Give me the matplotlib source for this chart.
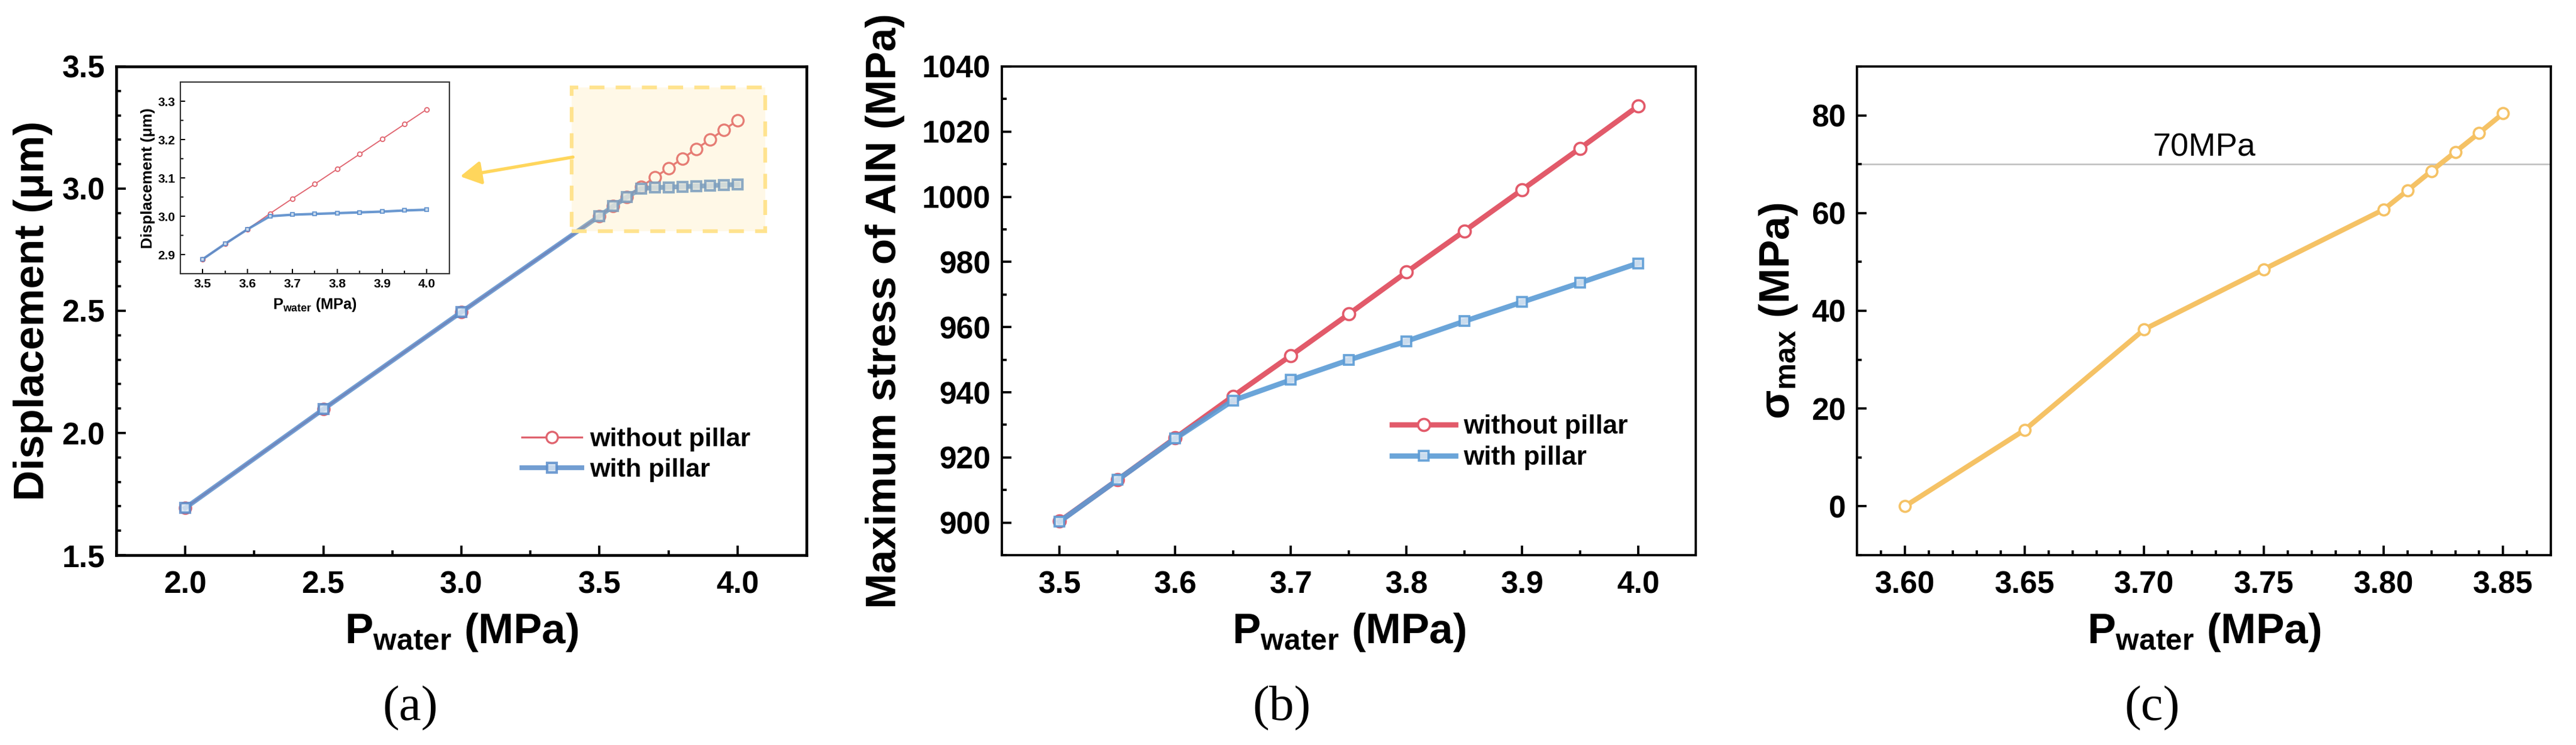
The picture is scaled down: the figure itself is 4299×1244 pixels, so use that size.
import matplotlib
matplotlib.use('Agg')
import matplotlib.pyplot as plt
from matplotlib.ticker import MultipleLocator, FormatStrFormatter
from matplotlib.patches import Rectangle

plt.rcParams['font.family'] = ['Liberation Sans', 'DejaVu Sans']
plt.rcParams['font.weight'] = 'bold'
plt.rcParams['mathtext.fontset'] = 'custom'
plt.rcParams['mathtext.rm'] = 'Liberation Sans:bold'
plt.rcParams['mathtext.bf'] = 'Liberation Sans:bold'
plt.rcParams['mathtext.it'] = 'Liberation Sans:bold'
plt.rcParams['mathtext.default'] = 'bf'

# ---------------- data ----------------
p_a = [2.0, 2.5, 3.0, 3.5, 3.55, 3.6, 3.65, 3.7, 3.75, 3.8, 3.85, 3.9, 3.95, 4.0]
disp_without = [1.693, 2.097, 2.495, 2.888, 2.928, 2.966, 3.007, 3.046, 3.084,
                3.123, 3.162, 3.201, 3.240, 3.279]
disp_with = [1.693, 2.097, 2.495, 2.888, 2.928, 2.966, 3.000, 3.004, 3.006,
             3.008, 3.010, 3.012, 3.015, 3.017]

p_b = [3.5, 3.55, 3.6, 3.65, 3.7, 3.75, 3.8, 3.85, 3.9, 3.95, 4.0]
stress_without = [900.4, 913.1, 926.0, 938.8, 951.3, 964.0, 976.9, 989.5, 1002.2, 1014.9, 1027.8]
stress_with = [900.3, 913.1, 925.8, 937.5, 943.8, 949.9, 955.7, 961.8, 967.7, 973.6, 979.6]

p_c = [3.60, 3.65, 3.70, 3.75, 3.80, 3.81, 3.82, 3.83, 3.84, 3.85]
sigma_max = [0.0, 15.6, 36.2, 48.5, 60.7, 64.6, 68.6, 72.5, 76.4, 80.4]
threshold = 70

labels = ['without pillar', 'with pillar']
xlab = r'$\mathbf{P}_{\mathbf{water}}$ (MPa)'

RED_A = '#E0646F'
BLUE_A = '#5A8DCB'
RED_B = '#E25A6A'
BLUE_B = '#5B9BD5'
YEL = '#F5C265'
BLUE_FACE = '#D5E3F1'

W, H = 4299, 1244
fig = plt.figure(figsize=(W / 300, H / 300), dpi=300)

bottom, height = 0.2548, 0.656
ax_a = fig.add_axes([0.0451, bottom, 0.268, height])
ax_b = fig.add_axes([0.3889, bottom, 0.2694, height])
ax_c = fig.add_axes([0.7209, bottom, 0.2694, height])

TICK_FS = 12.4
LAB_FS = 17


def style(ax, lw=0.9):
    for s in ax.spines.values():
        s.set_linewidth(lw)
    ax.tick_params(which='both', direction='in', width=0.9, labelsize=TICK_FS)
    ax.tick_params(which='major', length=3.8)
    ax.tick_params(which='minor', length=2.0)
    ax.tick_params(axis='x', pad=6)
    ax.tick_params(axis='y', pad=4.5)


# ---------------- panel (a) ----------------
ax = ax_a
ax.plot(p_a, disp_without, color=RED_A, lw=0.8, marker='o', ms=4.6,
        mfc='white', mec=RED_A, mew=0.8, label=labels[0], zorder=3)
ax.plot(p_a, disp_with, color=BLUE_A, lw=1.9, marker='s', ms=4.0,
        mfc=BLUE_FACE, mec=BLUE_A, mew=1.0, alpha=0.85, label=labels[1], zorder=4)
ax.add_patch(Rectangle((3.40, 2.825), 0.70, 0.59, facecolor='#FFE08A', alpha=0.2,
                       edgecolor='none', zorder=5))
ax.add_patch(Rectangle((3.40, 2.825), 0.70, 0.59, facecolor='none',
                       edgecolor='#FFE38F', lw=1.5, ls=(0, (4, 3)), zorder=6))
ax.annotate('', xy=(2.996, 3.050), xytext=(3.404, 3.129),
            arrowprops=dict(arrowstyle='-|>,head_length=0.5,head_width=0.28',
                            color='#FFD65C', lw=1.3, mutation_scale=14,
                            shrinkA=0, shrinkB=0), zorder=6)
ax.set_xlim(1.75, 4.25)
ax.set_ylim(1.5, 3.5)
ax.xaxis.set_major_locator(MultipleLocator(0.5))
ax.xaxis.set_minor_locator(MultipleLocator(0.25))
ax.yaxis.set_major_locator(MultipleLocator(0.5))
ax.yaxis.set_minor_locator(MultipleLocator(0.1))
style(ax, 1.1)
ax.set_ylabel('Displacement (μm)', fontsize=LAB_FS, fontweight='bold')
ax.set_xlabel(xlab, fontsize=LAB_FS, fontweight='bold')
ax.yaxis.set_label_coords(-0.092, 0.5)
ax.xaxis.set_label_coords(0.5, -0.115)
ax.legend(loc='center left', bbox_to_anchor=(0.588, 0.205), frameon=False,
          handlelength=2.3, handletextpad=0.3, labelspacing=0.25,
          borderpad=0, borderaxespad=0, numpoints=1,
          prop={'weight': 'bold', 'size': 10.4})

# inset
ins = fig.add_axes([0.0700, 0.6326, 0.1044, 0.2572])
ins.plot(p_a[3:], disp_without[3:], color=RED_A, lw=0.45, marker='o', ms=1.8,
         mfc='white', mec=RED_A, mew=0.45, zorder=3)
ins.plot(p_a[3:], disp_with[3:], color=BLUE_A, lw=1.0, marker='s', ms=1.6,
         mfc=BLUE_FACE, mec=BLUE_A, mew=0.45, alpha=0.9, zorder=4)
ins.set_xlim(3.45, 4.05)
ins.set_ylim(2.85, 3.35)
ins.xaxis.set_major_locator(MultipleLocator(0.1))
ins.xaxis.set_minor_locator(MultipleLocator(0.05))
ins.yaxis.set_major_locator(MultipleLocator(0.1))
ins.yaxis.set_minor_locator(MultipleLocator(0.05))
for s in ins.spines.values():
    s.set_linewidth(0.5)
    s.set_color('#333333')
ins.tick_params(which='both', direction='in', width=0.5, labelsize=5.0, pad=2)
ins.tick_params(which='major', length=2.0)
ins.tick_params(which='minor', length=1.1)
ins.set_ylabel('Displacement (μm)', fontsize=6.3, fontweight='bold', labelpad=1.0)
ins.set_xlabel(xlab, fontsize=6.1, fontweight='bold', labelpad=2.5)

# ---------------- panel (b) ----------------
ax = ax_b
ax.plot(p_b, stress_without, color=RED_B, lw=2.1, marker='o', ms=4.8,
        mfc='white', mec=RED_B, mew=0.9, label=labels[0], zorder=3)
ax.plot(p_b, stress_with, color=BLUE_B, lw=2.1, marker='s', ms=3.8,
        mfc=BLUE_FACE, mec=BLUE_B, mew=0.9, alpha=0.9, label=labels[1], zorder=4)
ax.set_xlim(3.45, 4.05)
ax.set_ylim(890, 1040)
ax.xaxis.set_major_locator(MultipleLocator(0.1))
ax.xaxis.set_minor_locator(MultipleLocator(0.05))
ax.yaxis.set_major_locator(MultipleLocator(20))
ax.yaxis.set_minor_locator(MultipleLocator(10))
style(ax, 0.9)
ax.set_ylabel('Maximum stress of AlN (MPa)', fontsize=LAB_FS, fontweight='bold')
ax.set_xlabel(xlab, fontsize=LAB_FS, fontweight='bold')
ax.yaxis.set_label_coords(-0.140, 0.5)
ax.xaxis.set_label_coords(0.5, -0.115)
ax.legend(loc='center left', bbox_to_anchor=(0.562, 0.2305), frameon=False,
          handlelength=2.4, handletextpad=0.3, labelspacing=0.25,
          borderpad=0, borderaxespad=0, numpoints=1,
          prop={'weight': 'bold', 'size': 10.6})

# ---------------- panel (c) ----------------
ax = ax_c
ax.axhline(threshold, color='#BDBDBD', lw=0.6, zorder=1)
ax.text(3.725, threshold + 1.7, '70MPa', ha='center', va='baseline',
        fontsize=13, fontweight='normal')
ax.plot(p_c, sigma_max, color=YEL, lw=2.0, marker='o', ms=4.4,
        mfc='white', mec=YEL, mew=0.9, zorder=3)
ax.set_xlim(3.58, 3.87)
ax.set_ylim(-10, 90)
ax.xaxis.set_major_locator(MultipleLocator(0.05))
ax.xaxis.set_minor_locator(MultipleLocator(0.01))
ax.yaxis.set_major_locator(MultipleLocator(20))
ax.yaxis.set_minor_locator(MultipleLocator(10))
ax.xaxis.set_major_formatter(FormatStrFormatter('%.2f'))
style(ax, 0.9)
ax.set_ylabel(r'$\mathbf{σ}_{\mathbf{max}}$ (MPa)', fontsize=LAB_FS, fontweight='bold')
ax.set_xlabel(xlab, fontsize=LAB_FS, fontweight='bold')
ax.yaxis.set_label_coords(-0.083, 0.5)
ax.xaxis.set_label_coords(0.5, -0.115)

# panel letters
for xp, lab in [(685, '(a)'), (2139, '(b)'), (3592, '(c)')]:
    fig.text(xp / W, 0.049, lab, ha='center', va='center', fontsize=20,
             family=['Liberation Serif', 'DejaVu Serif'], fontweight='normal')

fig.savefig('out.png', dpi=300)
